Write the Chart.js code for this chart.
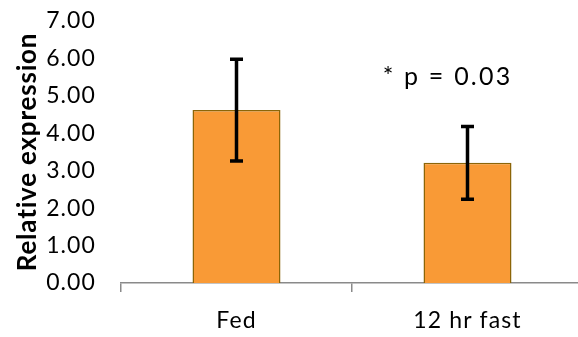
<!DOCTYPE html>
<html>
<head>
<meta charset="utf-8">
<script src="https://cdn.jsdelivr.net/npm/chart.js@4"></script>
<style>
  html, body { margin: 0; padding: 0; background: #fff; overflow: hidden; }
  #wrap { width: 592px; height: 337px; }
</style>
</head>
<body>
<div id="wrap"><canvas id="c" width="592" height="337"></canvas></div>
<script>
// Relative expression, mean with error (SD) per condition
const categories = ['Fed', '12 hr fast'];
const means = [4.62, 3.21];
const errors = [1.36, 0.97];
const yTicks = [0, 1, 2, 3, 4, 5, 6, 7];
const yTitle = 'Relative expression';
const note = '* p = 0.03';

const FONT = 'Lato, "Open Sans", "DejaVu Sans", sans-serif';

// Wider letter spacing for all axis text
const spacingPlugin = {
  id: 'spacing',
  beforeDraw(chart) { chart.ctx.letterSpacing = '1.1px'; }
};

// Error bars, rotated axis title and the significance note
const overlayPlugin = {
  id: 'overlay',
  afterDatasetsDraw(chart) {
    const { ctx, chartArea, scales: { x, y } } = chart;
    ctx.save();
    ctx.strokeStyle = '#000';
    ctx.lineWidth = 3.5;
    ctx.lineCap = 'butt';
    means.forEach((m, i) => {
      const cx = x.getPixelForValue(i);
      const top = y.getPixelForValue(m + errors[i]);
      const bot = y.getPixelForValue(m - errors[i]);
      ctx.beginPath();
      ctx.moveTo(cx, top);
      ctx.lineTo(cx, bot);
      ctx.moveTo(cx - 6.5, top);
      ctx.lineTo(cx + 6.5, top);
      ctx.moveTo(cx - 6.5, bot);
      ctx.lineTo(cx + 6.5, bot);
      ctx.stroke();
    });

    ctx.fillStyle = '#000';
    ctx.textAlign = 'center';
    ctx.textBaseline = 'middle';

    ctx.letterSpacing = '2.2px';
    ctx.font = '25px ' + FONT;
    ctx.fillText(note, x.getPixelForValue(1) - 20, y.getPixelForValue(5.5));

    ctx.letterSpacing = '0.8px';
    ctx.font = 'bold 26px ' + FONT;
    ctx.translate(28, (chartArea.top + chartArea.bottom) / 2);
    ctx.rotate(-Math.PI / 2);
    ctx.fillText(yTitle, 0, 0);
    ctx.restore();
  }
};

new Chart(document.getElementById('c'), {
  type: 'bar',
  data: {
    labels: categories,
    datasets: [{
      data: means,
      backgroundColor: '#F99A36',
      borderColor: '#8C6508',
      borderWidth: 1.5,
      categoryPercentage: 1,
      barPercentage: 0.381
    }]
  },
  options: {
    responsive: false,
    animation: false,
    events: [],
    layout: { padding: { top: 21, right: 9, left: 0, bottom: 0 } },
    plugins: { legend: { display: false }, tooltip: { enabled: false } },
    scales: {
      x: {
        grid: {
          offset: true,
          drawOnChartArea: false,
          drawTicks: true,
          tickLength: 9,
          color: '#8A8A8A',
          lineWidth: 1.5
        },
        border: { display: true, color: '#8A8A8A', width: 1.5 },
        ticks: { color: '#000', font: { family: FONT, size: 23 }, padding: 15 },
        afterFit(s) { s.height = 54; }
      },
      y: {
        min: 0,
        max: 7,
        afterBuildTicks(s) { s.ticks = yTicks.map(v => ({ value: v })); },
        grid: { display: false, drawTicks: false },
        border: { display: false },
        ticks: {
          color: '#000',
          font: { family: FONT, size: 23 },
          padding: 25,
          callback: v => Number(v).toFixed(2)
        },
        afterFit(s) {
          s.width = 121;
          s.paddingTop = 0;
          s.paddingBottom = 0;
        }
      }
    }
  },
  plugins: [spacingPlugin, overlayPlugin]
});
</script>
</body>
</html>
